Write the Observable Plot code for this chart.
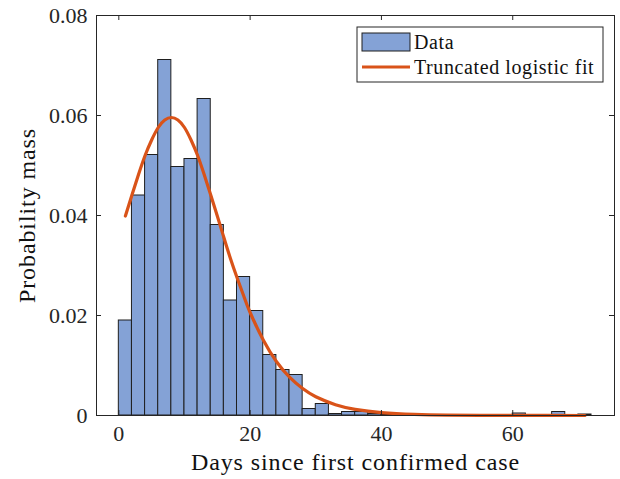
<!DOCTYPE html>
<html>
<head>
<meta charset="utf-8">
<script src="https://cdn.jsdelivr.net/npm/d3@7"></script>
<script src="https://cdn.jsdelivr.net/npm/@observablehq/plot@0.6"></script>
<style>
  html, body { margin: 0; padding: 0; background: #fff; }
  #chart svg { display: block; }
</style>
</head>
<body>
<div id="chart"></div>
<script>
// Histogram bins (left edges, width 2 days) and probability mass
const binStart = [0, 2, 4, 6, 8, 10, 12, 14, 16, 18, 20, 22, 24, 26, 28, 30, 32, 34,
                  36, 38, 40, 42, 44, 46, 48, 50, 52, 54, 56, 58, 60, 62, 64, 66, 68, 70];
const binWidth = 2;
const binMass = [0.0190, 0.0440, 0.0521, 0.0711, 0.0497, 0.0513, 0.0633, 0.0381, 0.0230,
                 0.0277, 0.0209, 0.0121, 0.0091, 0.0081, 0.0013, 0.0023, 0.0003, 0.0007,
                 0.0007, 0.0003, 0.0002, 0.0002, 0.0001, 0, 0, 0, 0, 0, 0, 0,
                 0.0004, 0, 0, 0.0007, 0, 0.0002];

// Truncated logistic fit curve
const fitX = [1, 2, 3, 4, 5, 6, 7, 8, 9, 10, 11, 12, 13, 14, 15, 16, 17, 18, 19, 20,
              22, 24, 26, 28, 30, 33, 36, 40, 45, 50, 55, 60, 65, 71];
const fitY = [0.0399, 0.0441, 0.0482, 0.0520, 0.0551, 0.0576, 0.0591, 0.0596, 0.0591, 0.0576,
              0.0551, 0.0520, 0.0482, 0.0441, 0.0399, 0.0356, 0.0314, 0.0276, 0.0240, 0.0206,
              0.0151, 0.0108, 0.00766, 0.00538, 0.00375, 0.00217, 0.00124, 0.00059, 0.00023,
              0.00009, 0.00004, 0.000014, 0.000006, 0.000002];

const xTicks = [0, 20, 40, 60];
const xTickLabels = ["0", "20", "40", "60"];
const yTicks = [0, 0.02, 0.04, 0.06, 0.08];
const yTickLabels = ["0", "0.02", "0.04", "0.06", "0.08"];

const seriesNames = ["Data", "Truncated logistic fit"];
const xLabel = "Days since first confirmed case";
const yLabel = "Probability mass";

const bins = binStart.map((s, i) => ({x1: s, x2: s + binWidth, mass: binMass[i]}));
const fit = fitX.map((x, i) => ({x, y: fitY[i]}));

const W = 620, H = 479;
const mL = 96, mR = 6, mT = 15, mB = 64;
const plotW = W - mL - mR, plotH = H - mT - mB;
const axisColor = "#262626";
const barFill = "#84a2d6";
const fitColor = "#D95319";
const font = "'Liberation Serif', 'Times New Roman', serif";
const tickLen = 5;

const chart = Plot.plot({
  width: W, height: H,
  marginLeft: mL, marginRight: mR, marginTop: mT, marginBottom: mB,
  style: {fontFamily: font, color: axisColor, background: "#fff"},
  x: {domain: [-3.4, 75.5]},
  y: {domain: [0, 0.08]},
  marks: [
    Plot.rect(bins, {x1: "x1", x2: "x2", y1: 0, y2: "mass", fill: barFill, stroke: "#1f1f1f", strokeWidth: 1}),
    Plot.line(fit, {x: "x", y: "y", stroke: fitColor, strokeWidth: 3.2, curve: "natural"}),
    // inward ticks on all four sides
    Plot.tickX(xTicks, {x: d => d, insetTop: plotH - tickLen, stroke: axisColor}),
    Plot.tickX(xTicks, {x: d => d, insetBottom: plotH - tickLen, stroke: axisColor}),
    Plot.tickY(yTicks, {y: d => d, insetRight: plotW - tickLen, stroke: axisColor}),
    Plot.tickY(yTicks, {y: d => d, insetLeft: plotW - tickLen, stroke: axisColor}),
    Plot.frame({stroke: axisColor, strokeWidth: 1}),
    Plot.axisX(xTicks, {tickSize: 0, tickPadding: 10, fontSize: 22, label: null,
      tickFormat: d => xTickLabels[xTicks.indexOf(d)]}),
    Plot.axisY(yTicks, {tickSize: 0, tickPadding: 9, fontSize: 22, label: null,
      tickFormat: d => yTickLabels[yTicks.indexOf(d)]}),
    Plot.text([xLabel], {text: d => d, frameAnchor: "bottom", dy: 54, fontSize: 24, fill: "#111"}),
    Plot.text([yLabel], {text: d => d, frameAnchor: "left", textAnchor: "middle", dx: -69, rotate: -90,
      fontSize: 24, fill: "#111"})
  ]
});

document.getElementById("chart").appendChild(chart);

const svg = d3.select(chart);
// slightly wider letter spacing on the axis titles to match the reference typeface width
svg.selectAll("g[aria-label='text'] text").style("letter-spacing", "0.9px");

// Legend (inside the axes, top-right)
const lgX = 357, lgY = 27, lgW = 246, lgH = 55;
const lg = svg.append("g").attr("font-family", font).attr("font-size", 20).attr("text-anchor", "start");
lg.append("rect").attr("x", lgX).attr("y", lgY).attr("width", lgW).attr("height", lgH)
  .attr("fill", "#fff").attr("stroke", axisColor).attr("stroke-width", 1);
lg.append("rect").attr("x", lgX + 5).attr("y", lgY + 6).attr("width", 48).attr("height", 18)
  .attr("fill", barFill).attr("stroke", "#1f1f1f").attr("stroke-width", 1);
lg.append("line").attr("x1", lgX + 5).attr("x2", lgX + 53).attr("y1", lgY + 40).attr("y2", lgY + 40)
  .attr("stroke", fitColor).attr("stroke-width", 3);
lg.append("text").attr("x", lgX + 57).attr("y", lgY + 15).attr("dy", "0.35em")
  .attr("fill", "#111").style("letter-spacing", "0.6px").text(seriesNames[0]);
lg.append("text").attr("x", lgX + 57).attr("y", lgY + 40).attr("dy", "0.35em")
  .attr("fill", "#111").style("letter-spacing", "0.6px").text(seriesNames[1]);
</script>
</body>
</html>
